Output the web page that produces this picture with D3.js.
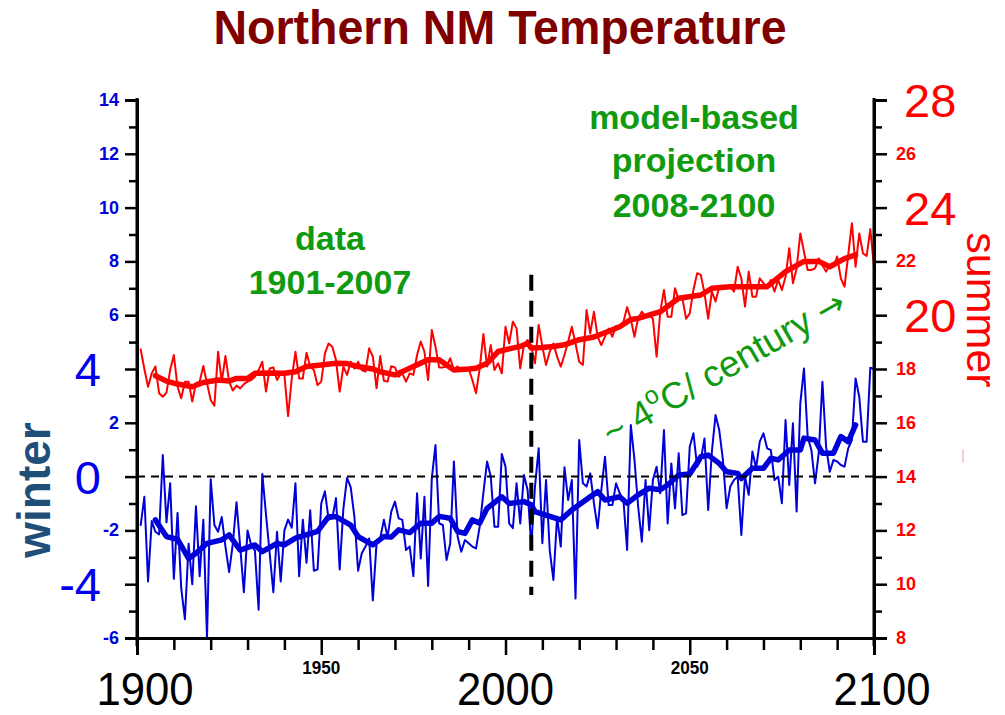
<!DOCTYPE html>
<html>
<head>
<meta charset="utf-8">
<script src="https://cdn.jsdelivr.net/npm/d3@7"></script>
<style>
	body { margin: 0; background: #fff; }
	svg { display: block; }
	text { font-family: "Liberation Sans", Arial, sans-serif; }
</style>
</head>
<body>
<svg id="chart" width="1005" height="715"></svg>
<script>
// annual values, first year 1901
var firstYear = 1901;
var winterAnnual = [
	-1.8, -0.75, -3.9, -1.65, -2.05, -2.15, 0.8, -1.7, -0.25, -3.8,
	-1.35, -4.15, -5.3, -2.5, -4.0, -1.1, -3.7, -1.6, -6.0, -0.1,
	-1.8, -2.05, -1.5, -2.6, -3.55, -2.5, -0.95, -2.6, -4.3, -2.0,
	-2.55, -2.75, -4.95, 0.1, -1.4, -2.85, -4.3, -2.05, -3.9, -2.0,
	-1.6, -1.9, -0.25, -3.7, -1.6, -3.2, -1.25, -3.5, -3.45, -1.0,
	-0.55, -1.6, -1.55, -0.8, -3.45, -1.2, -0.05, -0.4, -1.5, -3.5,
	-2.85, -2.6, -2.3, -4.6, -2.5, -2.3, -1.6, -2.25, -1.3, -0.93,
	-1.55, -1.61, -2.73, -2.6, -3.7, -0.62, -3.04, -0.75, -4.07, -0.06,
	1.17, -1.74, -1.8, -3.1, -2.48, 0.56, -2.23, -2.79, -2.36, -2.48,
	-2.6, -2.67, -1.86, -0.6, 0.56, 0.0, -1.86, -1.86, 0.84, 0.37,
	-1.74, -1.92, -0.25, -1.74, 0.06, -0.5, -2.6, -0.37, 1.05, -2.48,
	-0.13, -2.73, -3.84, -1.49, -2.6, 0.35, -0.87, -0.13, -4.53, 1.36,
	-0.25, -0.37, 0.12, -0.99, -1.92, -0.5, 0.74, -1.06, -1.06, -0.25,
	-0.62, -0.87, -2.73, 1.92, 0.62, -1.12, -2.42, -0.13, -1.99, -0.13,
	0.37, -0.62, 1.73, -1.74, 0.49, -1.18, 0.87, -1.43, -1.37, 1.11,
	1.61, 0.37, 0.62, 1.42, -1.24, 0.93, 2.29, 1.73, 0.62, -1.18,
	-0.37, -0.13, 0.0, -2.17, 0.0, -0.68, 0.93, 0.31, 1.3, 1.61,
	1.05, 0.99, -0.13, 0.0, -0.99, 2.1, -0.31, 1.98, -1.3, 2.72,
	4.02, 1.48, 0.99, -0.25, 0.87, 3.53, 1.11, 0.18, 0.62, 0.56,
	0.43, 0.37, 1.05, 1.36, 3.65, 2.97, 1.3, 1.3, 4.05, 4.0
];
var summerAnnual = [
	18.73, 18.0, 17.34, 17.84, 18.09, 17.1, 16.97, 17.12, 17.96, 18.52,
	17.34, 16.91, 17.53, 17.53, 16.79, 17.47, 17.53, 18.11, 17.47, 16.85,
	16.64, 18.64, 17.53, 18.48, 17.53, 17.2, 17.38, 17.28, 17.44, 17.53,
	17.59, 17.71, 17.96, 18.27, 17.16, 18.02, 18.06, 17.59, 17.84, 17.78,
	16.25, 17.65, 18.64, 17.65, 17.65, 18.6, 18.09, 17.96, 17.4, 17.53,
	18.58, 18.95, 18.83, 18.33, 17.16, 18.09, 17.78, 18.27, 18.02, 18.27,
	17.96, 17.9, 18.77, 18.46, 17.28, 18.48, 17.56, 17.53, 18.1, 18.06,
	17.71, 17.84, 17.53, 17.84, 17.78, 18.52, 19.02, 18.64, 17.59, 19.45,
	18.83, 18.06, 18.06, 18.09, 18.4, 17.96, 18.09, 17.96, 18.02, 18.02,
	17.59, 17.1, 18.02, 19.3, 18.09, 18.89, 17.96, 18.21, 17.84, 19.57,
	18.95, 19.76, 19.51, 18.02, 18.89, 19.08, 18.83, 18.21, 19.64, 18.83,
	18.15, 18.64, 18.95, 18.46, 18.09, 18.52, 19.02, 19.57, 18.95, 18.27,
	18.15, 20.19, 19.33, 20.13, 19.2, 18.89, 19.2, 19.5, 19.2, 19.6,
	19.57, 19.75, 20.3, 19.85, 19.2, 19.9, 20.13, 19.94, 20.0, 19.87,
	18.46, 20.13, 20.94, 19.94, 19.94, 21.0, 20.57, 20.63, 19.87, 20.07,
	20.94, 21.56, 21.5, 20.82, 19.87, 20.88, 20.51, 21.06, 21.0, 21.06,
	21.06, 20.88, 21.8, 21.37, 20.32, 21.62, 20.69, 20.69, 21.37, 21.19,
	21.06, 21.31, 20.88, 21.31, 20.94, 21.43, 22.49, 21.19, 21.74, 23.04,
	22.36, 21.68, 21.68, 21.74, 22.11, 21.86, 21.62, 21.86, 21.8, 22.18,
	21.37, 21.06, 22.24, 23.42, 21.8, 23.04, 22.3, 22.2, 23.2, 21.8
];

// smoothed curves [year, value]
var winterSmooth = [
	[1905, -1.61], [1908, -2.23], [1911, -2.33], [1914, -3.04], [1916, -2.85],
	[1919, -2.48], [1923, -2.35], [1925, -2.17], [1928, -2.73], [1932, -2.54],
	[1934, -2.79], [1938, -2.48], [1940, -2.54], [1943, -2.29], [1949, -2.04],
	[1952, -1.49], [1954, -1.49], [1958, -1.8], [1960, -2.23], [1964, -2.54],
	[1967, -2.23], [1969, -2.25], [1971, -1.98], [1974, -2.08], [1977, -1.73],
	[1980, -1.73], [1982, -1.48], [1985, -1.55], [1987, -2.04], [1989, -2.11],
	[1991, -1.61], [1993, -1.73], [1995, -1.18], [1999, -0.75], [2001, -1.0],
	[2005, -0.93], [2007, -1.05], [2008, -1.3], [2012, -1.48], [2015, -1.61],
	[2018, -1.24], [2023, -0.75], [2025, -0.56], [2027, -0.87], [2031, -0.75],
	[2033, -0.99], [2036, -0.68], [2039, -0.43], [2042, -0.49], [2044, -0.31],
	[2047, 0.06], [2050, 0.1], [2053, 0.74], [2055, 0.8], [2058, 0.49],
	[2060, 0.18], [2063, 0.12], [2064, -0.07], [2067, 0.31], [2070, 0.31],
	[2072, 0.68], [2074, 0.62], [2077, 0.99], [2080, 0.99], [2081, 1.43],
	[2084, 1.36], [2086, 0.87], [2089, 0.87], [2091, 1.49], [2093, 1.3],
	[2095, 1.92]
];
var summerSmooth = [
	[1905, 17.75], [1908, 17.55], [1911, 17.44], [1915, 17.34], [1918, 17.5],
	[1922, 17.59], [1925, 17.55], [1927, 17.65], [1930, 17.65], [1932, 17.84],
	[1936, 17.85], [1940, 17.84], [1943, 17.9], [1946, 18.09], [1950, 18.15],
	[1954, 18.21], [1957, 18.2], [1960, 18.09], [1964, 18.0], [1966, 17.9],
	[1970, 17.78], [1975, 18.09], [1979, 18.34], [1982, 18.34], [1986, 17.96],
	[1990, 18.0], [1992, 18.03], [1995, 18.21], [1998, 18.65], [2001, 18.75],
	[2004, 18.84], [2006, 18.96], [2007, 18.78], [2010, 18.8], [2013, 18.84],
	[2016, 18.9], [2020, 19.09], [2024, 19.19], [2029, 19.46], [2031, 19.57],
	[2034, 19.84], [2036, 19.88], [2042, 20.13], [2047, 20.63], [2053, 20.75],
	[2056, 21.0], [2061, 21.06], [2071, 21.06], [2076, 21.62], [2081, 22.0],
	[2085, 22.0], [2088, 21.8], [2092, 22.1], [2095, 22.24]
];

// tick labels
var leftSmallTicks = [14, 12, 10, 8, 6, 2, -2, -6];
var leftBigTicks = [4, 0, -4];
var rightSmallTicks = [26, 22, 18, 16, 14, 12, 10, 8];
var rightBigTicks = [28, 24, 20];
var xSmallTicks = [1950, 2050];
var xBigTicks = [1900, 2000, 2100];
var splitYear = 2007;

var svg = d3.select('#chart');

var x = d3.scaleLinear().domain([1900, 2100]).range([137, 874]);
var yL = d3.scaleLinear().domain([-6, 14]).range([638, 100]);
var yR = d3.scaleLinear().domain([8, 28]).range([638, 100]);

var green = '#109a10';

function addText(cfg) {
	var t = svg.append('text')
		.attr('transform', 'translate(' + cfg.x + ',' + cfg.y + ')' +
			(cfg.rotate ? ' rotate(' + cfg.rotate + ')' : '') +
			(cfg.sx ? ' scale(' + cfg.sx + ',1)' : ''))
		.attr('text-anchor', cfg.anchor || 'middle')
		.attr('font-size', cfg.size)
		.attr('font-weight', cfg.bold ? 'bold' : 'normal')
		.attr('fill', cfg.color)
		.text(cfg.text);
	return t;
}

function annualPoints(values) {
	return values.map(function(v, i){ return [firstYear + i, v]; });
}

function drawLine(data, yScale, color, width) {
	var line = d3.line()
		.x(function(d){ return x(d[0]); })
		.y(function(d){ return yScale(d[1]); });
	svg.append('path')
		.datum(data)
		.attr('d', line)
		.attr('fill', 'none')
		.attr('stroke', color)
		.attr('stroke-width', width)
		.attr('stroke-linejoin', 'round')
		.attr('stroke-linecap', 'round');
}

//title
addText({x: 500, y: 44, text: 'Northern NM Temperature', size: 49, bold: true, color: '#800000', sx: 0.95});

//series
drawLine(annualPoints(summerAnnual), yR, '#ff0000', 2);
drawLine(summerSmooth, yR, '#ff0000', 5.5);
drawLine(annualPoints(winterAnnual), yL, '#0000d8', 2);
drawLine(winterSmooth, yL, '#0000d8', 5.5);

//reference lines
svg.append('line')
	.attr('x1', x(1900)).attr('x2', x(2100))
	.attr('y1', yL(0)).attr('y2', yL(0))
	.attr('stroke', '#000').attr('stroke-width', 2)
	.attr('stroke-dasharray', '8,6');

svg.append('line')
	.attr('x1', x(splitYear)).attr('x2', x(splitYear))
	.attr('y1', yL(7.5)).attr('y2', yL(-4.4))
	.attr('stroke', '#000').attr('stroke-width', 4)
	.attr('stroke-dasharray', '16,10');

//axes
var gLeft = svg.append('g').attr('transform', 'translate(' + x(1900) + ',0)');
gLeft.call(d3.axisLeft(yL).tickValues(d3.range(-6, 15, 2)).tickSize(12).tickFormat(''));
gLeft.append('g').call(d3.axisLeft(yL).tickValues(d3.range(-5, 14, 2)).tickSize(8).tickFormat(''));

var gRight = svg.append('g').attr('transform', 'translate(' + x(2100) + ',0)');
gRight.call(d3.axisRight(yR).tickValues(d3.range(8, 29, 2)).tickSize(13).tickFormat(''));
gRight.append('g').call(d3.axisRight(yR).tickValues(d3.range(9, 28, 2)).tickSize(8).tickFormat(''));

var gBottom = svg.append('g').attr('transform', 'translate(0,' + yL(-6) + ')');
gBottom.call(d3.axisBottom(x).tickValues(d3.range(1910, 2100, 10).filter(function(d){ return d % 50 !== 0; })).tickSize(12).tickFormat(''));
gBottom.append('g').call(d3.axisBottom(x).tickValues(d3.range(1900, 2101, 50)).tickSize(17).tickFormat(''));

svg.selectAll('.domain').attr('stroke-width', 3);
svg.selectAll('.tick line').attr('stroke-width', 2.5);

// axis lines run a bit past the bottom axis
svg.append('line').attr('x1', x(1900)).attr('x2', x(1900)).attr('y1', 98).attr('y2', 646)
	.attr('stroke', '#000').attr('stroke-width', 3);
svg.append('line').attr('x1', x(2100)).attr('x2', x(2100)).attr('y1', 98).attr('y2', 646)
	.attr('stroke', '#000').attr('stroke-width', 3);

//tick labels
leftSmallTicks.forEach(function(v){
	addText({x: 119, y: yL(v) + 6, text: String(v), size: 18, bold: true, color: '#0000dd', anchor: 'end'});
});
leftBigTicks.forEach(function(v){
	addText({x: 101, y: yL(v) + 17, text: String(v), size: 47, color: '#0000ee', anchor: 'end'});
});
rightSmallTicks.forEach(function(v){
	addText({x: 896, y: yR(v) + 6, text: String(v), size: 18, bold: true, color: '#ff0000', anchor: 'start'});
});
rightBigTicks.forEach(function(v){
	addText({x: 904, y: yR(v) + 17, text: String(v), size: 47, color: '#ff0000', anchor: 'start'});
});
xSmallTicks.forEach(function(v){
	addText({x: x(v), y: 674, text: String(v), size: 19, bold: true, color: '#000', sx: 0.9});
});
xBigTicks.forEach(function(v){
	addText({x: x(v) + (v === 2000 ? 0 : 8), y: 705, text: String(v), size: 46, color: '#000', sx: 0.95});
});

//axis titles
addText({x: 50, y: 490, text: 'winter', size: 46, bold: true, color: '#1f4e79', rotate: -90});
addText({x: 967, y: 310, text: 'summer', size: 43, color: '#ff0000', rotate: 90});
svg.append('line').attr('x1', 963).attr('x2', 963).attr('y1', 449).attr('y2', 463)
	.attr('stroke', '#ff9999').attr('stroke-width', 1);

//annotations
addText({x: 330, y: 250, text: 'data', size: 34, bold: true, color: green});
addText({x: 330, y: 294, text: '1901-2007', size: 34, bold: true, color: green});
addText({x: 694, y: 129, text: 'model-based', size: 34, bold: true, color: green});
addText({x: 694, y: 172, text: 'projection', size: 34, bold: true, color: green});
addText({x: 694, y: 217, text: '2008-2100', size: 34, bold: true, color: green});

var trend = svg.append('text')
	.attr('transform', 'translate(730,378) rotate(-30)')
	.attr('text-anchor', 'middle')
	.attr('font-size', 37)
	.attr('fill', green);
trend.append('tspan').text('~ 4');
trend.append('tspan').attr('font-size', 25).attr('dy', -16).text('o');
trend.append('tspan').attr('dy', 16).text('C/ century ');
trend.append('tspan').attr('font-family', 'DejaVu Sans').attr('font-size', 34).text('\u2192');
</script>
</body>
</html>
